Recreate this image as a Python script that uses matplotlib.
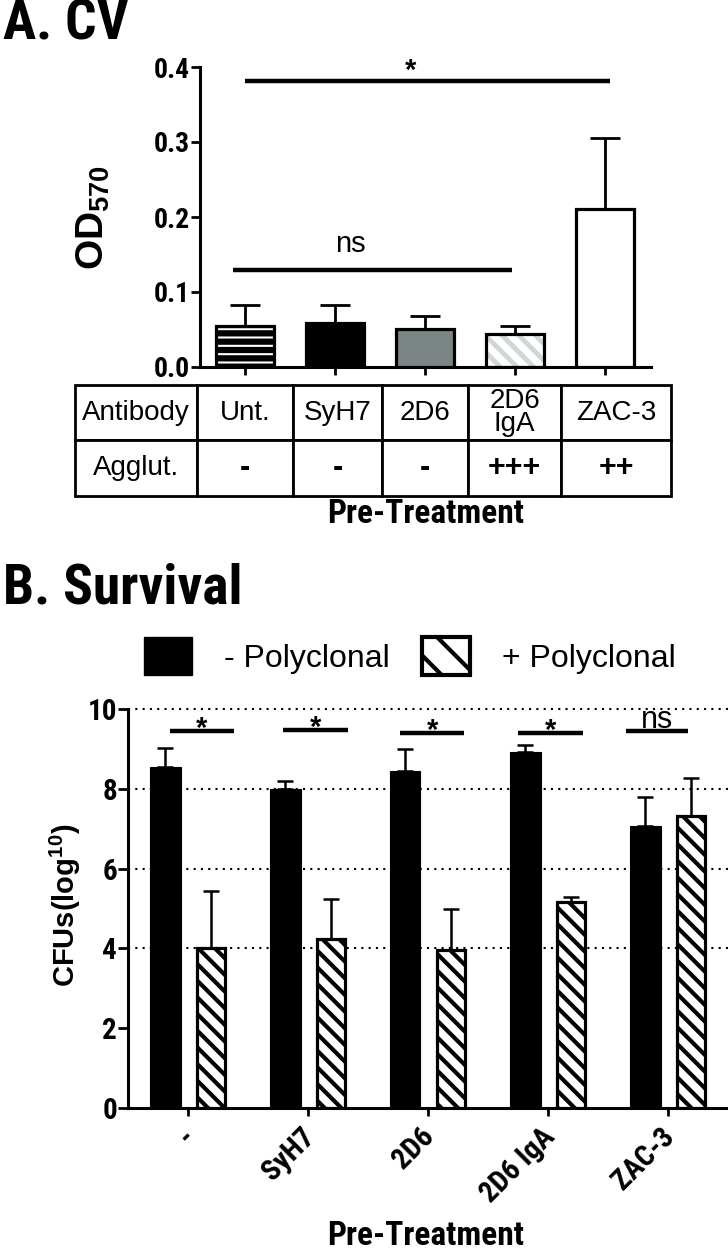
import numpy as np
import matplotlib as mpl
mpl.use('Agg')
import matplotlib.pyplot as plt
from matplotlib import font_manager
from matplotlib.patches import Patch

installed = {f.name for f in font_manager.fontManager.ttflist}
narrow = 'Liberation Sans'
for cand in ['Liberation Sans Narrow', 'Roboto Condensed']:
    if cand in installed:
        narrow = cand
        break
plt.rcParams['font.family'] = ['Liberation Sans', 'DejaVu Sans']
plt.rcParams['mathtext.fontset'] = 'custom'
plt.rcParams['mathtext.rm'] = 'Liberation Sans'
plt.rcParams['mathtext.bf'] = 'Liberation Sans:bold'
plt.rcParams['mathtext.it'] = 'Liberation Sans:italic'

# A. crystal violet
cv_groups = ['Unt.', 'SyH7', '2D6', '2D6\nIgA', 'ZAC-3']
cv_mean = [0.054, 0.058, 0.051, 0.044, 0.210]
cv_err = [0.028, 0.024, 0.017, 0.011, 0.095]
agglut = ['-', '-', '-', '+++', '++']

# B. survival
surv_groups = ['-', 'SyH7', '2D6', '2D6 IgA', 'ZAC-3']
minus_poly = [8.55, 8.0, 8.45, 8.93, 7.07]
minus_err = [0.47, 0.2, 0.55, 0.17, 0.73]
plus_poly = [4.01, 4.24, 3.96, 5.16, 7.32]
plus_err = [1.44, 0.99, 1.03, 0.13, 0.95]
sig_start = [-0.15, 0.79, 1.77, 2.75, 3.65]
sig_end = [0.38, 1.33, 2.30, 3.29, 4.17]
sig_y = [9.45, 9.47, 9.41, 9.41, 9.45]
sig_text = ['*', '*', '*', '*', 'ns']

W, H = 728, 1252


def box(l, t, r, b):
    return [l / W, 1 - b / H, (r - l) / W, (b - t) / H]


def tick_font(ax, size):
    for lab in ax.get_xticklabels() + ax.get_yticklabels():
        lab.set_fontfamily(narrow)
        lab.set_fontweight('bold')
        lab.set_fontsize(size)


def hatch_lw(bars, lw):
    for p in bars:
        if hasattr(p, 'set_hatch_linewidth'):
            p.set_hatch_linewidth(lw)


fig = plt.figure(figsize=(W / 100, H / 100), dpi=100)

# ---------------- panel A ----------------
axA = fig.add_axes(box(200, 67, 651, 367))
xa = np.arange(len(cv_mean))
bw = 0.64
faces = ['black', 'black', '#7b8584', 'white', 'white']
hatches = ['--', None, None, '\\\\', None]
hcols = ['white', None, None, '#d0d7d4', None]
hlws = [1.5, 0, 0, 3.5, 0]
for i in xa:
    if hatches[i]:
        plt.rcParams['hatch.linewidth'] = hlws[i]
        b = axA.bar(i, cv_mean[i], bw, color=faces[i], edgecolor=hcols[i],
                    hatch=hatches[i], lw=0, zorder=2)
        hatch_lw(b, hlws[i])
        axA.bar(i, cv_mean[i], bw, fill=False, edgecolor='black', lw=2.3, zorder=3)
    else:
        axA.bar(i, cv_mean[i], bw, color=faces[i], edgecolor='black', lw=2.3, zorder=3)
axA.errorbar(xa, cv_mean, yerr=[np.zeros(5), cv_err], fmt='none', ecolor='black',
             elinewidth=2, capsize=10.8, capthick=2, zorder=1)

axA.plot([0, 4.05], [0.381, 0.381], color='black', lw=3.2, clip_on=False,
         solid_capstyle='butt')
axA.text(1.84, 0.384, '*', ha='center', va='baseline', fontsize=21,
         fontweight='bold', clip_on=False)
axA.plot([-0.13, 2.97], [0.129, 0.129], color='black', lw=3.2,
         solid_capstyle='butt')
axA.text(1.17, 0.153, 'ns', ha='center', va='baseline', fontsize=21)

axA.set_xlim(-0.5, 4.51)
axA.set_ylim(0, 0.4)
axA.set_xticks(xa)
axA.set_xticklabels([])
axA.set_yticks([0, 0.1, 0.2, 0.3, 0.4])
axA.set_yticklabels(['0.0', '0.1', '0.2', '0.3', '0.4'])
axA.tick_params(axis='y', length=6.5, width=2, pad=1)
axA.tick_params(axis='x', length=6, width=2)
for s in ['top', 'right']:
    axA.spines[s].set_visible(False)
for s in ['left', 'bottom']:
    axA.spines[s].set_linewidth(2.2)
tick_font(axA, 20)
fig.text(93 / W, 1 - 217 / H, r'OD$_{\mathbf{570}}$', rotation=90, ha='center',
         va='center', fontsize=28, fontweight='bold')

# table under panel A
axT = fig.add_axes(box(75, 385, 671, 496))
axT.axis('off')
col_px = [122, 96, 89, 86, 93, 110]
cells = [['Antibody'] + cv_groups, ['Agglut.'] + agglut]
tbl = axT.table(cellText=cells, colWidths=[c / sum(col_px) for c in col_px],
                cellLoc='center', bbox=[0, 0, 1, 1])
tbl.auto_set_font_size(False)
for (r, c), cell in tbl.get_celld().items():
    cell.set_linewidth(2)
    t = cell.get_text()
    t.set_fontsize(20)
    t.set_linespacing(0.85)
    if r == 1 and c > 0:
        t.set_fontweight('bold')
        t.set_fontsize(22)

fig.text(426 / W, 1 - 523 / H, 'Pre-Treatment', ha='center', va='baseline',
         fontfamily=narrow, fontweight='bold', fontsize=24)
fig.text(3 / W, 1 - 40 / H, 'A. CV', ha='left', va='baseline',
         fontfamily=narrow, fontweight='bold', fontsize=40)

# ---------------- panel B ----------------
axB = fig.add_axes(box(128, 709, 728, 1108))
xb = np.arange(len(minus_poly))
off = 0.19
for yv in [4, 6, 8, 10]:
    axB.axhline(yv, color='black', ls=(0, (1, 2.5)), lw=1.5, zorder=1, clip_on=False)
axB.bar(xb - off, minus_poly, 0.255, color='black', edgecolor='black', lw=0.8, zorder=3)
plt.rcParams['hatch.linewidth'] = 3.0
hb = axB.bar(xb + off, plus_poly, 0.23, facecolor='white', edgecolor='black',
             hatch='\\\\', lw=2.3, zorder=3)
hatch_lw(hb, 3.0)
axB.errorbar(xb - off, minus_poly, yerr=[np.zeros(5), minus_err], fmt='none',
             ecolor='black', elinewidth=1.8, capsize=5.5, capthick=1.8, zorder=2)
axB.errorbar(xb + off, plus_poly, yerr=[np.zeros(5), plus_err], fmt='none',
             ecolor='black', elinewidth=1.8, capsize=5.5, capthick=1.8, zorder=2)

for s0, s1, sy, st in zip(sig_start, sig_end, sig_y, sig_text):
    axB.plot([s0, s1], [sy, sy], color='black', lw=3.2, solid_capstyle='butt', zorder=4)
    if st == '*':
        axB.text((s0 + s1) / 2, sy - 0.15, st, ha='center', va='baseline',
                 fontsize=21, fontweight='bold', zorder=5)
    else:
        axB.text((s0 + s1) / 2, sy + 0.07, st, ha='center', va='baseline',
                 fontsize=22, zorder=5)

axB.set_xlim(-0.5, 4.5)
axB.set_ylim(0, 10)
axB.set_yticks(range(0, 11, 2))
axB.set_xticks(xb)
axB.set_xticklabels(surv_groups, rotation=45, ha='right', va='center_baseline',
                    rotation_mode='anchor')
axB.tick_params(axis='y', length=7, width=2, pad=1)
axB.tick_params(axis='x', length=6, width=2, pad=10)
for s in ['top', 'right']:
    axB.spines[s].set_visible(False)
for s in ['left', 'bottom']:
    axB.spines[s].set_linewidth(2.2)
tick_font(axB, 21)
fig.text(65 / W, 1 - 905 / H, r'CFUs(log$^{\mathbf{10}}$)', rotation=90,
         ha='center', va='center', fontsize=21, fontweight='bold')
fig.text(426 / W, 1 - 1245 / H, 'Pre-Treatment', ha='center', va='baseline',
         fontfamily=narrow, fontweight='bold', fontsize=24)
fig.text(3 / W, 1 - 603 / H, 'B. Survival', ha='left', va='baseline',
         fontfamily=narrow, fontweight='bold', fontsize=40)

plt.rcParams['hatch.linewidth'] = 3.0
handles = [Patch(facecolor='black', edgecolor='black'),
           Patch(facecolor='white', edgecolor='black', hatch='\\', lw=3)]
fig.legend(handles, ['- Polyclonal', '+ Polyclonal'], loc='center',
           bbox_to_anchor=(410 / W, 1 - 656 / H), ncol=2, frameon=False,
           fontsize=23, handlelength=1.5, handleheight=1.5, handletextpad=1.0,
           columnspacing=1.0, borderpad=0, borderaxespad=0)

fig.savefig('out.png', dpi=100)
